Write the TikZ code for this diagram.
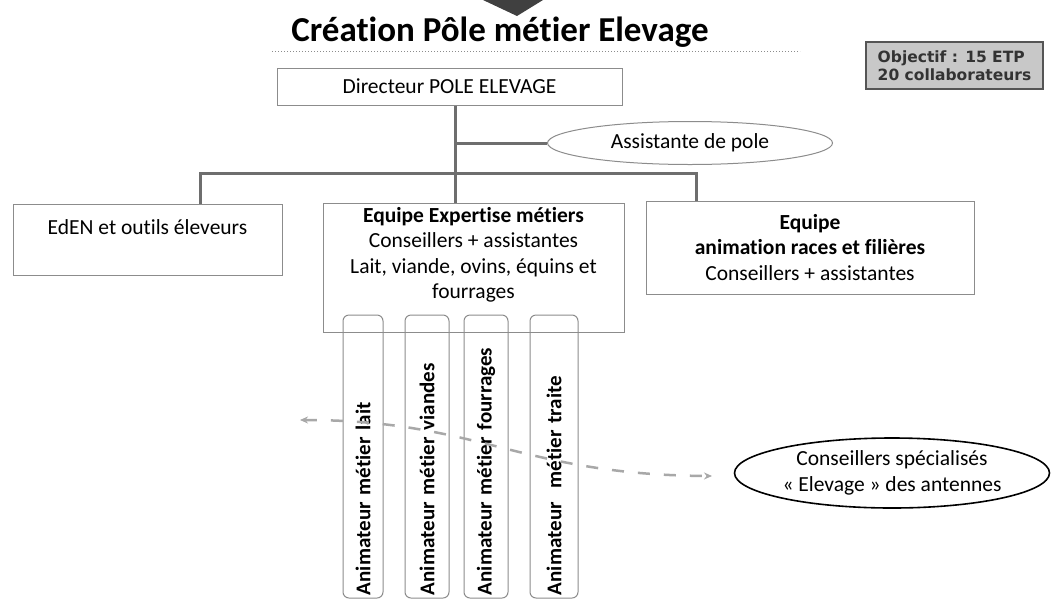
\documentclass[tikz,border=0pt]{standalone}
\usepackage{fontspec}
\setmainfont{Carlito}[Ligatures=NoCommon]
\newfontfamily\objfont{DejaVu Sans}
\usetikzlibrary{arrows.meta,shapes.geometric}
\definecolor{conngray}{HTML}{6E6E6E}
\definecolor{boxgray}{HTML}{8C8C8C}
\definecolor{dashgray}{HTML}{A8A8A8}
\definecolor{objfill}{HTML}{C8C8C8}
\definecolor{objline}{HTML}{555555}
\newcommand{\bodyfs}{\fontsize{21.5}{25.5}\selectfont}
\newcommand{\anifs}{\fontsize{21}{25}\selectfont}
\begin{document}
\begin{tikzpicture}[x=1pt,y=-1pt,
  every node/.style={font=\bodyfs},
  box/.style={draw=boxgray, line width=1pt, fill=white, inner sep=0pt, align=center},
  conn/.style={draw=conngray, line width=3pt},
  anibox/.style={draw=boxgray, line width=1pt, rounded corners=6pt, rotate=90,
    minimum width=283pt, text width=277pt, inner xsep=3pt, inner ysep=0pt, align=left, font=\anifs\bfseries},
  ellbox/.style={ellipse, draw=boxgray, line width=1pt, inner sep=0pt, align=center},
  dasharrow/.style={draw=dashgray, line width=2.5pt, dash pattern=on 12pt off 14pt,
    {Stealth[length=8pt,width=7pt]}-{Stealth[length=8pt,width=7pt]}}
]
\useasboundingbox (0,0) rectangle (1051,600);
\fill[white] (0,0) rectangle (1051,600);

% top arrow fragment
\fill[black!75] (483,0) -- (543,0) -- (517,16) -- cycle;

% title
\node[font=\fontsize{35}{40}\selectfont\bfseries, anchor=base] (title) at (500,41) {Création Pôle métier Elevage};
\draw[boxgray, dotted, line width=1pt] (272,51) -- (800,51);

% objective
\node[draw=objline, line width=1.5pt, fill=objfill, minimum width=177pt, minimum height=47pt,
  inner sep=0pt, align=left, text=black!80, font=\objfont\fontsize{15.5}{18}\selectfont\bfseries] (obj) at (954.5,65.5)
  {Objectif : 15 ETP\\20 collaborateurs};

% director
\node[box, minimum width=345pt, minimum height=37pt] (dir) at (449.5,86.5) {Directeur POLE ELEVAGE};

% assistant
\node[ellbox, minimum width=285pt, minimum height=43pt] (ass) at (690,143) {Assistante de pole};

% teams
\node[box, minimum width=269pt, minimum height=71pt,
  label={[font=\bodyfs, yshift=12.5pt]center:EdEN et outils éleveurs}] (eden) at (147.5,239.5) {};
\node[box, minimum width=301pt, minimum height=129pt,
  label={[font=\bodyfs, yshift=12.5pt, align=center]center:{\bfseries Equipe Expertise métiers}\\Conseillers + assistantes\\Lait, viande, ovins, équins et\\fourrages}] (exp) at (473.5,267.5) {};
\node[box, minimum width=328pt, minimum height=93pt] (team) at (810,247.5)
  {\bfseries Equipe\\\bfseries animation races et filières\\Conseillers + assistantes};

% connectors
\coordinate (tk) at (455,0);
\coordinate (bl) at (200,173);
\coordinate (br) at (696,173);
\draw[conn] (dir.south -| tk) -- (exp.north -| tk);
\draw[conn] (ass.west -| tk) -- (ass.west);
\draw[conn] (eden.north -| bl) -- (bl) -- (br) -- (team.north -| br);

% animators
\node[anibox, minimum height=40pt] (a1) at (363,456.5) {Animateur métier lait};
\node[anibox, minimum height=44pt] (a2) at (427,456.5) {Animateur métier viandes};
\node[anibox, minimum height=44pt] (a3) at (486,456.5) {Animateur métier fourrages};
\node[anibox, minimum height=48pt] (a4) at (554,456.5) {Animateur\ \ métier traite};

% specialised advisers
\node[ellipse, draw=black, line width=1.6pt, inner sep=0pt, align=center,
  minimum width=315pt, minimum height=70pt] (cons) at (892,473)
  {Conseillers spécialisés\\« Elevage » des antennes};

% dashed link
\coordinate (dl) at (300,420);
\coordinate (dr) at (712,476);
\draw[dasharrow] (dl) .. controls (480,420) and (520,475) .. (dr);
\end{tikzpicture}
\end{document}
